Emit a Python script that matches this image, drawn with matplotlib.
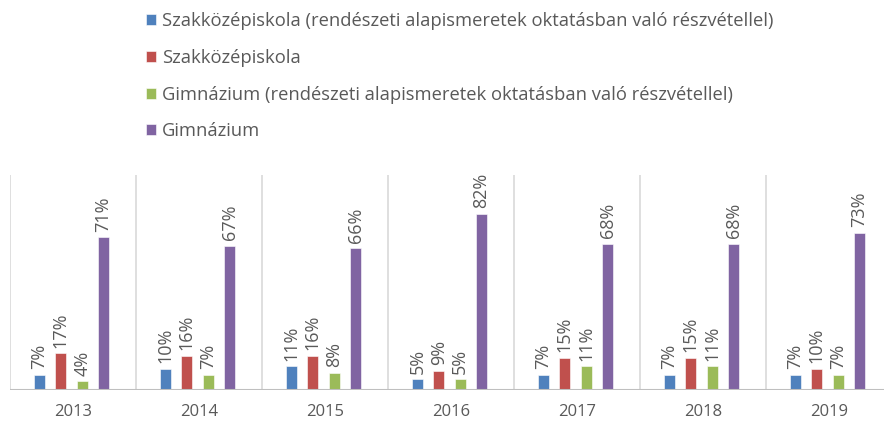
import matplotlib.pyplot as plt
import numpy as np

years = ["2013", "2014", "2015", "2016", "2017", "2018", "2019"]
series_names = [
    "Szakközépiskola (rendészeti alapismeretek oktatásban való részvétellel)",
    "Szakközépiskola",
    "Gimnázium (rendészeti alapismeretek oktatásban való részvétellel)",
    "Gimnázium",
]
szak_rend = [7, 10, 11, 5, 7, 7, 7]
szak = [17, 16, 16, 9, 15, 15, 10]
gimn_rend = [4, 7, 8, 5, 11, 11, 7]
gimn = [71, 67, 66, 82, 68, 68, 73]

colors = ["#4F81BD", "#C0504D", "#9BBB59", "#8064A2"]
text_color = "#595959"

plt.rcParams["font.family"] = ["Open Sans", "DejaVu Sans"]

fig = plt.figure(figsize=(8.84, 4.24), dpi=100)
ax = fig.add_axes([10 / 884, 1 - 390 / 424, 882 / 884, 215 / 424])

x = np.arange(len(years))
width = 0.09
step = 0.17
all_series = [szak_rend, szak, gimn_rend, gimn]
handles = []
for i, (vals, col) in enumerate(zip(all_series, colors)):
    pos = x + (i - 1.5) * step - 0.012
    bars = ax.bar(pos, vals, width, color=col, edgecolor="white", linewidth=0.4)
    handles.append(bars)
    for p, v in zip(pos, vals):
        ax.annotate(f"{v}%", (p, v), xytext=(0, 4), textcoords="offset points",
                    rotation=90, ha="center", va="bottom",
                    fontsize=13, color=text_color)

ax.set_xlim(-0.5, len(years) - 0.5)
ax.set_ylim(0, 100)
for b in np.arange(-0.5, len(years), 1.0):
    ax.axvline(b, color="#d9d9d9", linewidth=1.2, zorder=0)
ax.axhline(0, color="#bfbfbf", linewidth=1.5)
for s in ax.spines.values():
    s.set_visible(False)
ax.set_yticks([])
ax.set_xticks(x)
ax.set_xticklabels(years, fontsize=12, color=text_color)
ax.tick_params(axis="x", length=0, pad=10)

fig.legend(handles, series_names, loc="upper left",
           bbox_to_anchor=(129 / 884, 1.01), frameon=False,
           fontsize=13.2, labelcolor=text_color, handlelength=0.55,
           handleheight=0.55, handletextpad=0.35, labelspacing=1.02)

fig.savefig("out.png", dpi=100)
